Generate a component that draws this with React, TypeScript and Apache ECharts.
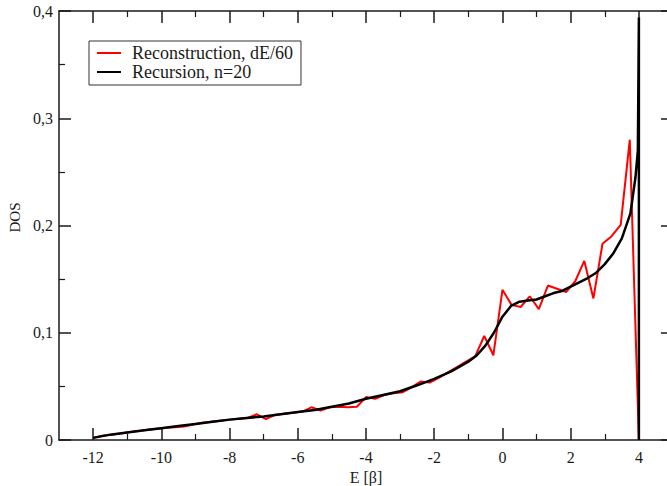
import React, { useEffect, useRef } from "react";
import * as echarts from "echarts";

// Energy grid of the reconstruction: 60 steps of dE between -12 and 4 (units of beta)
const E_START = -12;
const E_END = 4;
const E_STEPS = 60;

// Reconstructed density of states on that grid (61 points)
const reconstructionDos = [
  0.002, 0.004, 0.005, 0.006, 0.0075, 0.0085, 0.0095, 0.0105, 0.0115, 0.0118,
  0.0125, 0.0145, 0.016, 0.017, 0.018, 0.019, 0.0198, 0.0205, 0.024, 0.0195,
  0.0235, 0.0245, 0.0255, 0.0265, 0.0305, 0.0275, 0.0305, 0.031, 0.0305, 0.031,
  0.04, 0.0385, 0.042, 0.0435, 0.0445, 0.049, 0.0545, 0.0535, 0.058, 0.063,
  0.068, 0.073, 0.078, 0.097, 0.079, 0.14, 0.126, 0.124, 0.134, 0.122,
  0.144, 0.141, 0.138, 0.148, 0.167, 0.132, 0.183, 0.19, 0.2005, 0.28,
  0.0,
];

// Recursion result (n = 20 levels)
const recursionE = [
  -12, -11.5, -11, -10.5, -10, -9.5, -9, -8.5, -8, -7.5, -7, -6.5, -6, -5.5, -5,
  -4.5, -4, -3.5, -3, -2.5, -2, -1.5, -1, -0.75, -0.5, -0.25, 0, 0.25, 0.5, 0.75,
  1, 1.25, 1.5, 1.75, 2, 2.25, 2.5, 2.75, 3, 3.25, 3.5, 3.75, 3.9, 3.97, 4, 4,
];
const recursionDos = [
  0.002, 0.005, 0.007, 0.009, 0.011, 0.013, 0.015, 0.017, 0.019, 0.0205, 0.022,
  0.024, 0.026, 0.028, 0.031, 0.034, 0.0385, 0.042, 0.0455, 0.051, 0.057, 0.064,
  0.073, 0.079, 0.088, 0.1, 0.115, 0.125, 0.129, 0.13, 0.131, 0.134, 0.137, 0.139,
  0.143, 0.147, 0.151, 0.156, 0.164, 0.174, 0.188, 0.211, 0.245, 0.27, 0.394, 0,
];

const xMajorTicks = [-12, -10, -8, -6, -4, -2, 0, 2, 4];
const xMinorTicks = [-11, -9, -7, -5, -3, -1, 1, 3];

const SERIES_RECON = "Reconstruction, dE/60";
const SERIES_RECUR = "Recursion, n=20";

const FONT = "'Liberation Serif', 'DejaVu Serif', serif";
const INK = "#1a1a1a";

export default function App() {
  const ref = useRef<HTMLDivElement>(null);

  useEffect(() => {
    if (!ref.current) return;
    const chart = echarts.init(ref.current, undefined, { renderer: "svg" });

    const dE = (E_END - E_START) / E_STEPS;
    const reconData = reconstructionDos.map((v, k) => [E_START + k * dE, v]);
    const recurData = recursionE.map((e, i) => [e, recursionDos[i]]);

    const frameLine = { show: true, onZero: false, lineStyle: { color: INK, width: 1.5 } };
    const baseX = {
      type: "value",
      min: -13,
      max: 5,
      splitLine: { show: false },
    };

    const xAxes = [
      {
        ...baseX,
        position: "bottom",
        axisLine: frameLine,
        axisTick: {
          inside: true,
          length: 12,
          customValues: xMajorTicks,
          lineStyle: { color: INK, width: 1.5 },
        },
        axisLabel: {
          customValues: xMajorTicks,
          formatter: (v: number) => String(v),
          fontFamily: FONT,
          fontSize: 16,
          color: INK,
          margin: 9,
        },
        name: "E [β]",
        nameLocation: "middle",
        nameGap: 26,
        nameTextStyle: { fontFamily: FONT, fontSize: 16, color: INK },
      },
      {
        ...baseX,
        position: "bottom",
        axisLine: { show: false, onZero: false },
        axisTick: {
          inside: true,
          length: 6,
          customValues: xMinorTicks,
          lineStyle: { color: INK, width: 1.2 },
        },
        axisLabel: { show: false },
      },
      {
        ...baseX,
        position: "top",
        axisLine: frameLine,
        axisTick: {
          inside: true,
          length: 12,
          customValues: xMajorTicks,
          lineStyle: { color: INK, width: 1.5 },
        },
        axisLabel: { show: false },
      },
      {
        ...baseX,
        position: "top",
        axisLine: { show: false, onZero: false },
        axisTick: {
          inside: true,
          length: 6,
          customValues: xMinorTicks,
          lineStyle: { color: INK, width: 1.2 },
        },
        axisLabel: { show: false },
      },
    ];

    const baseY = {
      type: "value",
      min: 0,
      max: 0.4,
      interval: 0.1,
      splitLine: { show: false },
      axisLine: frameLine,
      axisTick: { inside: true, length: 12, lineStyle: { color: INK, width: 1.5 } },
      minorTick: { show: true, splitNumber: 2, length: 6, lineStyle: { color: INK, width: 1.2 } },
      minorSplitLine: { show: false },
    };

    const option = {
      animation: false,
      backgroundColor: "#ffffff",
      textStyle: { fontFamily: FONT },
      grid: {
        left: 59,
        right: -6,
        top: 11,
        bottom: 46,
        containLabel: false,
        outerBoundsMode: "none",
      },
      legend: {
        left: 89,
        top: 41,
        orient: "vertical",
        backgroundColor: "#ffffff",
        borderColor: "#333333",
        borderWidth: 1,
        borderRadius: 0,
        padding: [3, 8, 4, 8],
        icon: "rect",
        itemWidth: 24,
        itemHeight: 2,
        itemGap: 1,
        textStyle: {
          fontFamily: FONT,
          fontSize: 18,
          lineHeight: 18,
          color: INK,
          padding: [0, 0, 0, 6],
        },
        data: [SERIES_RECON, SERIES_RECUR],
      },
      xAxis: xAxes,
      yAxis: [
        {
          ...baseY,
          position: "left",
          axisLabel: {
            fontFamily: FONT,
            fontSize: 16,
            color: INK,
            margin: 6,
            formatter: (v: number) => (v === 0 ? "0" : v.toFixed(1).replace(".", ",")),
          },
          name: "DOS",
          nameLocation: "middle",
          nameGap: 33,
          nameRotate: 90,
          nameTextStyle: { fontFamily: FONT, fontSize: 15, color: INK, padding: [0, 0, 0, 16] },
        },
        {
          ...baseY,
          position: "right",
          axisLabel: { show: false },
        },
      ],
      series: [
        {
          name: SERIES_RECON,
          type: "line",
          xAxisIndex: 0,
          yAxisIndex: 0,
          data: reconData,
          symbol: "none",
          lineStyle: { color: "#ff0000", width: 2 },
          itemStyle: { color: "#ff0000" },
        },
        {
          name: SERIES_RECUR,
          type: "line",
          xAxisIndex: 0,
          yAxisIndex: 0,
          data: recurData,
          symbol: "none",
          lineStyle: { color: "#000000", width: 2.5 },
          itemStyle: { color: "#000000" },
        },
      ],
    };

    chart.setOption(option as any);
    return () => chart.dispose();
  }, []);

  return (
    <div
      ref={ref}
      style={{ position: "fixed", left: 0, top: 0, width: 667, height: 486, background: "#fff" }}
    />
  );
}
